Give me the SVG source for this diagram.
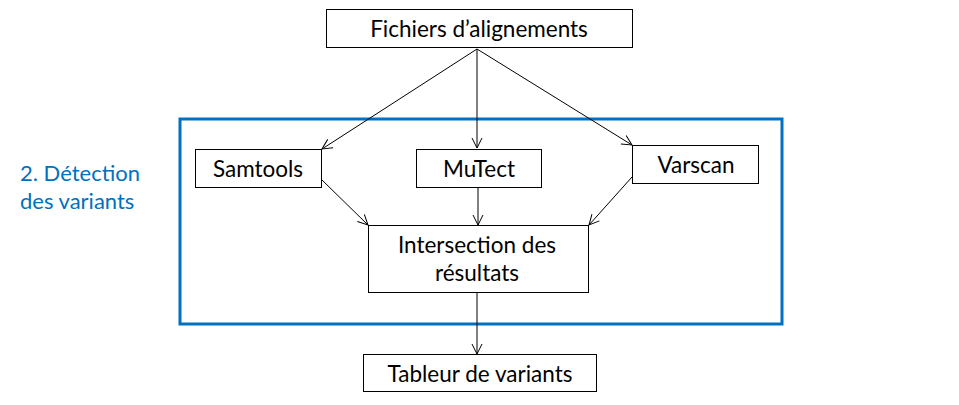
<svg xmlns="http://www.w3.org/2000/svg" width="959" height="405" viewBox="0 0 959 405">
<defs>
<marker id="arr" viewBox="0 0 12 12" refX="11" refY="6" markerWidth="12" markerHeight="12" markerUnits="userSpaceOnUse" orient="auto">
<path d="M1,1 L11,6 L1,11" fill="none" stroke="#000" stroke-width="1"/>
</marker>
<style>
.box{fill:#fff;stroke:#000;stroke-width:1}
.t{font-family:Lato,"Liberation Sans",sans-serif;font-size:22.5px;fill:#000;text-anchor:middle}
.c{fill:none;stroke:#000;stroke-width:1;marker-end:url(#arr)}
.blue{font-family:Lato,"Liberation Sans",sans-serif;font-size:22px;fill:#0070C0}
</style>
</defs>
<rect width="959" height="405" fill="#fff"/>
<g id="group-detection">
<rect x="180" y="119" width="602" height="205" fill="none" stroke="#0070C0" stroke-width="3"/>
<text class="blue" x="20" y="181">2. Détection</text>
<text class="blue" x="20" y="209">des variants</text>
</g>
<g id="connectors">
<line class="c" x1="477" y1="49" x2="322" y2="149"/>
<line class="c" x1="477" y1="49" x2="477" y2="148"/>
<line class="c" x1="477" y1="49" x2="632" y2="145"/>
<line class="c" x1="322" y1="180" x2="368" y2="225"/>
<line class="c" x1="478" y1="188" x2="478" y2="225"/>
<line class="c" x1="632" y1="177" x2="589" y2="225"/>
<line class="c" x1="477" y1="293" x2="477" y2="354"/>
</g>
<g id="fichiers">
<rect class="box" x="326.5" y="9.5" width="306" height="38"/>
<text class="t" x="479" y="36.5">Fichiers d’alignements</text>
</g>
<g id="samtools">
<rect class="box" x="195.5" y="149.5" width="126" height="38"/>
<text class="t" x="258" y="176.5">Samtools</text>
</g>
<g id="mutect">
<rect class="box" x="416.5" y="149.5" width="125" height="38"/>
<text class="t" x="479" y="176.5">MuTect</text>
</g>
<g id="varscan">
<rect class="box" x="632.5" y="145.5" width="126" height="38"/>
<text class="t" x="696" y="172.5">Varscan</text>
</g>
<g id="intersection">
<rect class="box" x="368.5" y="225.5" width="220" height="67"/>
<text class="t" x="477" y="253">Intersection des</text>
<text class="t" x="477" y="281">résultats</text>
</g>
<g id="tableur">
<rect class="box" x="363.5" y="354.5" width="233" height="37"/>
<text class="t" x="480" y="381.5">Tableur de variants</text>
</g>
</svg>
